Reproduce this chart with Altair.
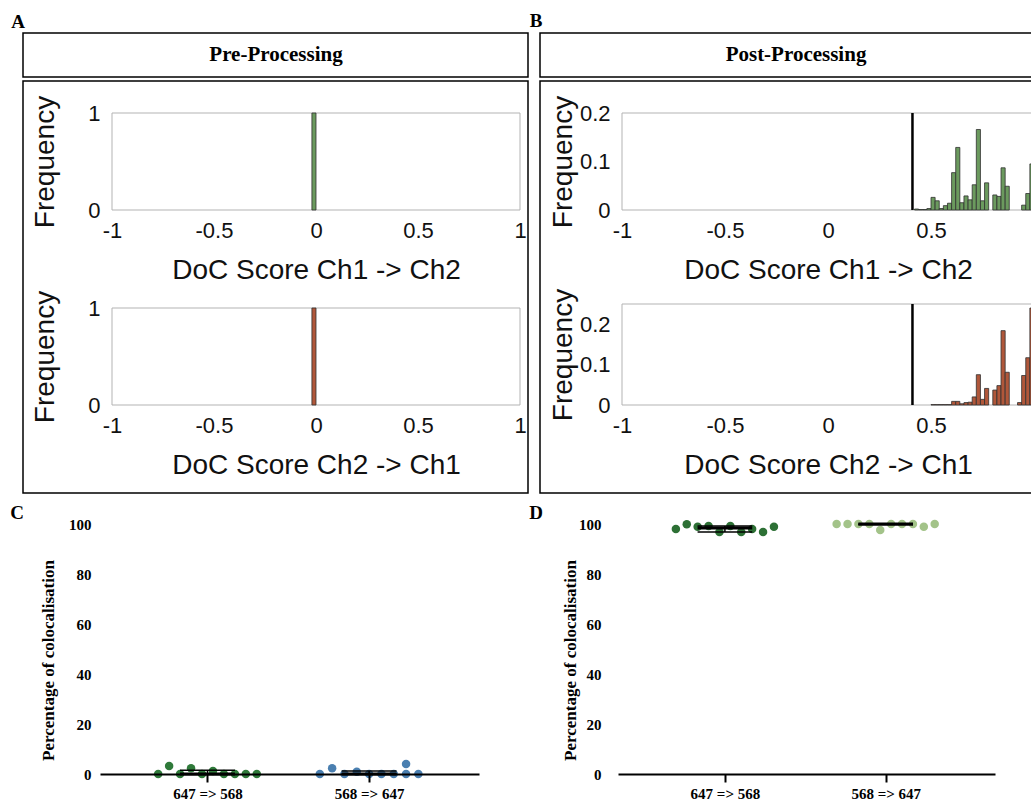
import altair as alt
import pandas as pd
import numpy as np

W, H = 1031, 803
SANS = "Liberation Sans"
SERIF = "Liberation Serif"

# ---------------- data ----------------
bin_width = 0.02
pre_bin_start = [-0.02]
pre_ch1_freq = [1.0]
pre_ch2_freq = [1.0]

post_bin_start = [0.42, 0.44, 0.46, 0.48, 0.50, 0.52, 0.54, 0.56, 0.58, 0.60,
                  0.62, 0.64, 0.66, 0.68, 0.70, 0.72, 0.74, 0.76, 0.78, 0.80,
                  0.82, 0.84, 0.86, 0.88, 0.90, 0.92, 0.94, 0.96, 0.98]
post_ch1_freq = [0.002, 0.001, 0.001, 0.003, 0.026, 0.019, 0.003, 0.009, 0.014, 0.077,
                 0.129, 0.015, 0.029, 0.021, 0.052, 0.166, 0.019, 0.056, 0.0, 0.031,
                 0.028, 0.087, 0.049, 0.0, 0.0, 0.0, 0.010, 0.034, 0.095]
post_ch2_freq = [0.0, 0.0, 0.0, 0.0, 0.001, 0.001, 0.001, 0.001, 0.001, 0.009,
                 0.009, 0.003, 0.006, 0.007, 0.020, 0.075, 0.014, 0.041, 0.0, 0.037,
                 0.048, 0.184, 0.081, 0.0, 0.0, 0.006, 0.073, 0.117, 0.240]
threshold = 0.41

x_ticks = [-1, -0.5, 0, 0.5, 1]
pre_y_ticks = [0, 1]
post_y_ticks = [0, 0.1, 0.2]

groups = ["647 => 568", "568 => 647"]
pre_647_568 = [0, 3.2, 0, 2.3, 0, 1.2, 0, 0, 0, 0]
pre_568_647 = [0, 2.3, 0, 0.9, 0, 0, 0, 4.0, 0, 0]
post_647_568 = [98.0, 99.9, 98.9, 99.2, 96.8, 99.2, 96.8, 98.0, 96.8, 98.9]
post_568_647 = [100, 100, 100, 100, 97.6, 100, 100, 100, 98.9, 100]
# dot column (rank within the scatter row)
pre_647_568_col = [0, 1, 2, 3, 4, 5, 6, 7, 8, 9]
pre_568_647_col = [0, 1, 2, 3, 4, 5, 6, 7, 7, 8]
post_647_568_col = [0, 1, 2, 3, 4, 5, 6, 7, 8, 9]
post_568_647_col = [0, 1, 2, 3, 4, 5, 6, 7, 8, 9]
pct_ticks = [0, 20, 40, 60, 80, 100]

# ---------------- helpers ----------------
one = pd.DataFrame({"k": [0]})
MINUS = "replace(format(datum.value, '~g'), '\u2212', '-')"


def box(x1, x2, y1, y2, sw=1.5, stroke="black"):
    return alt.Chart(one).mark_rect(fill="white", fillOpacity=0, stroke=stroke, strokeWidth=sw).encode(
        x=alt.value(x1), x2=alt.value(x2), y=alt.value(y1), y2=alt.value(y2))


def label(txt, x, y, size, font=SERIF, weight="bold"):
    return alt.Chart(one).mark_text(text=txt, font=font, fontSize=size, fontWeight=weight,
                                    align="center", baseline="middle", color="black").encode(
        x=alt.value(x), y=alt.value(y))


def hist(bins, freqs, ymax, fill, xr, yr, xtitle, yvals, title_x, thr=None, xvals=x_ticks):
    df = pd.DataFrame({"start": bins, "end": [b + bin_width for b in bins], "freq": freqs})
    df = df[df["freq"] > 0]
    xs = alt.Scale(domain=[-1, 1], range=list(xr), nice=False, zero=False)
    ys = alt.Scale(domain=[0, ymax], range=list(yr), nice=False, zero=False)
    xa = alt.Axis(orient="bottom", offset=yr[0] - H, values=list(xvals), labelExpr=MINUS,
                  title=xtitle, grid=False, domain=False, ticks=False, zindex=1,
                  labelFont=SANS, labelFontSize=22, labelColor="#111111", labelPadding=10,
                  labelFlush=False, labelOverlap=False,
                  titleFont=SANS, titleFontSize=28, titleFontWeight="normal",
                  titleColor="#111111", titlePadding=15)
    ya = alt.Axis(orient="left", offset=-xr[0], values=list(yvals), labelExpr=MINUS,
                  title="Frequency", grid=False, domain=False, ticks=False, zindex=1,
                  labelFont=SANS, labelFontSize=22, labelColor="#111111", labelPadding=12,
                  labelOverlap=False,
                  titleFont=SANS, titleFontSize=28, titleFontWeight="normal",
                  titleColor="#111111", titleX=title_x)
    bars = alt.Chart(df).mark_rect(fill=fill, stroke="#303030", strokeWidth=0.8).encode(
        x=alt.X("start:Q", scale=xs, axis=xa), x2="end:Q",
        y=alt.Y("freq:Q", scale=ys, axis=ya), y2=alt.datum(0))
    frame = alt.Chart(one).mark_rect(fill="white", fillOpacity=0, stroke="#b3b3b3", strokeWidth=1).encode(
        x=alt.datum(-1, axis=xa), x2=alt.datum(1),
        y=alt.datum(0, axis=ya), y2=alt.datum(ymax))
    layers = [frame, bars]
    if thr is not None:
        rule = alt.Chart(one).mark_rule(color="black", strokeWidth=2.5).encode(
            x=alt.datum(thr, axis=xa), y=alt.datum(0, axis=ya), y2=alt.datum(ymax))
        layers.append(rule)
    return alt.layer(*layers)


dot_span = 0.61   # horizontal spread of a scatter row, in category units
half_bar = 0.17   # half width of median / IQR lines, in category units


def scatter(vals_list, cols_list, colors, xr, axis_x, title_x, label_pad):
    rows = []
    summ = []
    for g, (vals, cols) in enumerate(zip(vals_list, cols_list), start=1):
        ncol = max(cols) + 1
        step = dot_span / (ncol - 1)
        for v, c in zip(vals, cols):
            rows.append({"grp": groups[g - 1], "pos": g + (c - (ncol - 1) / 2) * step, "val": v})
        q1, med, q3 = np.percentile(vals, [25, 50, 75], method="weibull")
        summ.append({"g": g, "left": g - half_bar, "right": g + half_bar,
                     "q1": q1, "med": med, "q3": q3})
    pts = pd.DataFrame(rows)
    sm = pd.DataFrame(summ)
    xs = alt.Scale(domain=[0.335, 2.68], range=list(xr), nice=False, zero=False)
    ys = alt.Scale(domain=[0, 100], range=[774, 524], nice=False, zero=False)
    lab = f"datum.value == 1 ? '{groups[0]}' : '{groups[1]}'"
    xa = alt.Axis(orient="bottom", offset=774 - H, values=[1, 2], labelExpr=lab, title="",
                  grid=False, domain=True, domainColor="black", domainWidth=2, zindex=1,
                  ticks=True, tickColor="black", tickWidth=2, tickSize=8,
                  labelFont=SERIF, labelFontWeight="bold", labelFontSize=15,
                  labelColor="black", labelPadding=4, labelFlush=False)
    ya = alt.Axis(orient="left", offset=-axis_x, values=pct_ticks, grid=False,
                  domain=False, ticks=False, zindex=1,
                  labelFont=SERIF, labelFontWeight="bold", labelFontSize=15,
                  labelColor="black", labelPadding=label_pad,
                  title="Percentage of colocalisation", titleFont=SERIF,
                  titleFontWeight="bold", titleFontSize=17, titleColor="black",
                  titleX=title_x, titleY=660)
    dots = alt.Chart(pts).mark_circle(size=72, opacity=1).encode(
        x=alt.X("pos:Q", scale=xs, axis=xa),
        y=alt.Y("val:Q", scale=ys, axis=ya),
        color=alt.Color("grp:N", scale=alt.Scale(domain=groups, range=colors), legend=None))
    med = alt.Chart(sm).mark_rule(color="black", strokeWidth=3).encode(
        x=alt.X("left:Q", axis=xa), x2="right:Q", y=alt.Y("med:Q", axis=ya))
    cap1 = alt.Chart(sm).mark_rule(color="black", strokeWidth=1.5).encode(
        x=alt.X("left:Q", axis=xa), x2="right:Q", y=alt.Y("q1:Q", axis=ya))
    cap3 = alt.Chart(sm).mark_rule(color="black", strokeWidth=1.5).encode(
        x=alt.X("left:Q", axis=xa), x2="right:Q", y=alt.Y("q3:Q", axis=ya))
    vert = alt.Chart(sm).mark_rule(color="black", strokeWidth=1.5).encode(
        x=alt.X("g:Q", axis=xa), y=alt.Y("q1:Q", axis=ya), y2="q3:Q")
    return alt.layer(dots, vert, cap1, cap3, med)


GREEN_BAR = "#6b9a5e"
ORANGE_BAR = "#b0573a"

layers = [
    box(23, 528, 33, 77), box(23, 528, 81, 493),
    box(540, 1060, 33, 77), box(540, 1060, 81, 493),
    label("Pre-Processing", 276, 55, 21),
    label("Post-Processing", 796, 55, 21),
    label("A", 18, 22, 19), label("B", 536, 21, 19),
    label("C", 17, 513, 19), label("D", 536, 513, 19),
    hist(pre_bin_start, pre_ch1_freq, 1.0, GREEN_BAR, (112, 520), (210, 113),
         "DoC Score Ch1 -> Ch2", pre_y_ticks, -53),
    hist(pre_bin_start, pre_ch2_freq, 1.0, ORANGE_BAR, (112, 520), (405, 308),
         "DoC Score Ch2 -> Ch1", pre_y_ticks, -53),
    hist(post_bin_start, post_ch1_freq, 0.2, GREEN_BAR, (622, 1034), (210, 113),
         "DoC Score Ch1 -> Ch2", post_y_ticks, -45, thr=threshold, xvals=[-1, -0.5, 0, 0.5]),
    hist(post_bin_start, post_ch2_freq, 0.25, ORANGE_BAR, (622, 1034), (405, 304),
         "DoC Score Ch2 -> Ch1", post_y_ticks, -45, thr=threshold, xvals=[-1, -0.5, 0, 0.5]),
    scatter([pre_647_568, pre_568_647], [pre_647_568_col, pre_568_647_col],
            ["#2f7a3a", "#4a7fb0"], (100, 479), 100, -43, 9),
    scatter([post_647_568, post_568_647], [post_647_568_col, post_568_647_col],
            ["#2d7035", "#a3c389"], (618, 995), 609, -30, 8),
]

chart = alt.layer(*layers).resolve_scale(
    x="independent", y="independent", color="independent"
).resolve_axis(
    x="independent", y="independent"
).properties(
    width=W, height=H, padding=0, autosize=alt.AutoSizeParams(type="none")
).configure_view(stroke=None)

chart.save("out.html", embed_options={"renderer": "svg", "actions": False})
